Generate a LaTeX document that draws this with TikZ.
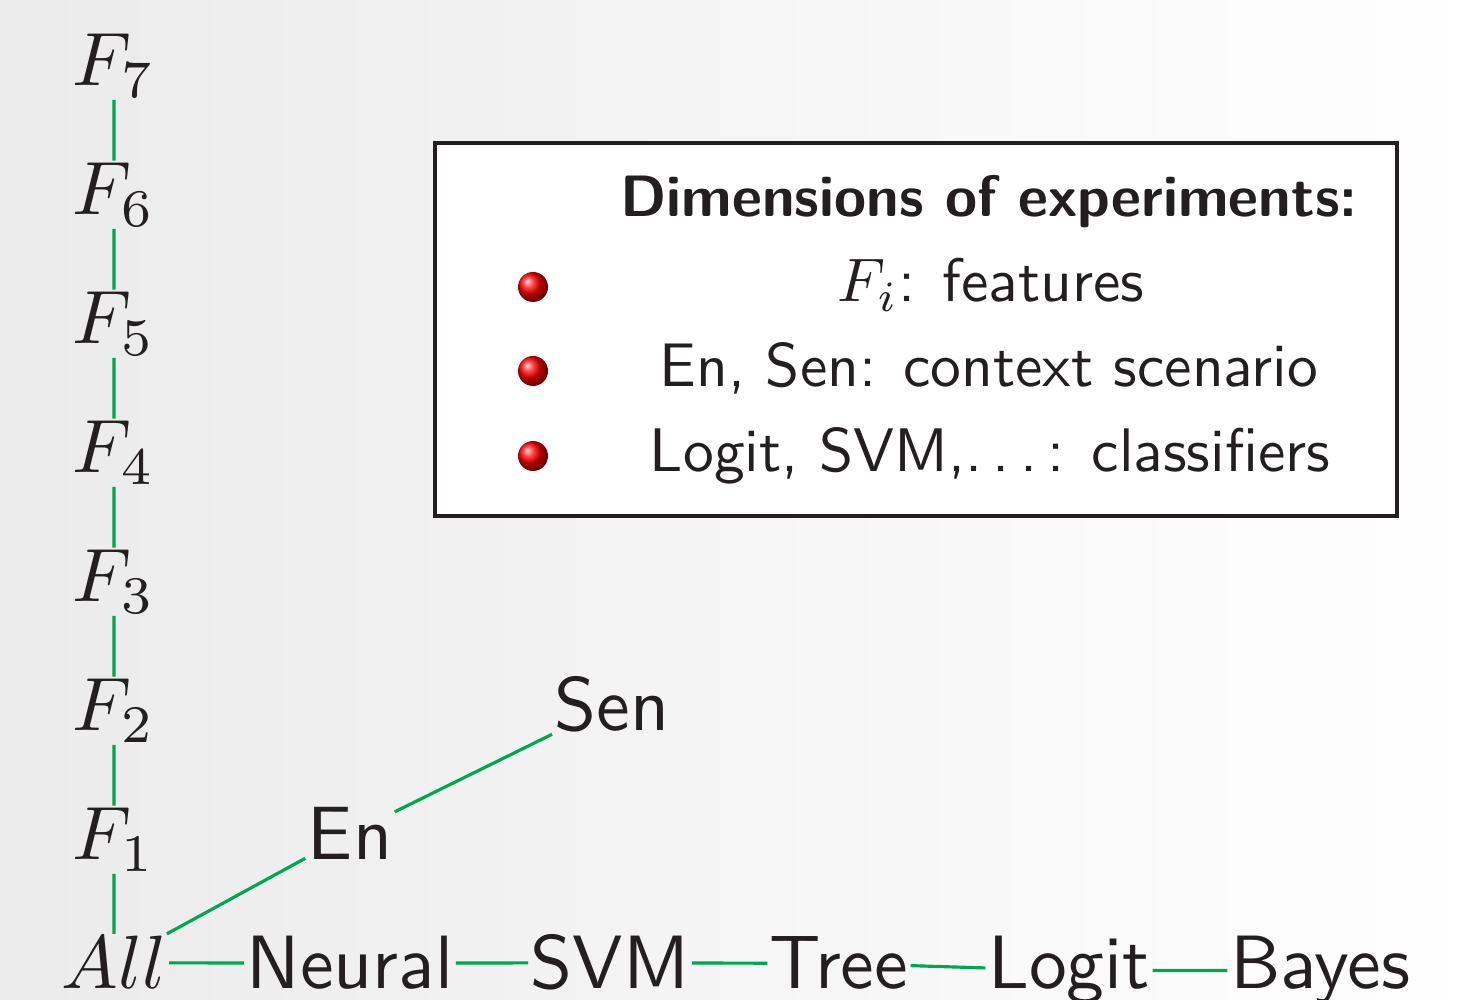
\documentclass[tikz,border=0pt]{standalone}
\usepackage{amsmath}
\usepackage{tikz}
\usetikzlibrary{positioning}

\definecolor{linkgreen}{RGB}{0,166,81}
\definecolor{inkgray}{RGB}{35,31,32}

% dots as in the old text ellipsis
\newcommand{\spacedots}{.\kern\fontdimen3\font.\kern\fontdimen3\font.\kern\fontdimen3\font}

\begin{document}
\begin{tikzpicture}[
		lbl/.style={anchor=base, inner sep=0.15pt, text=inkgray, font=\sffamily\fontsize{10}{12}\selectfont, scale=2.15, transform shape},
		link/.style={linkgreen, line width=0.9pt},
		keytext/.style={anchor=base, text=inkgray, font=\sffamily\fontsize{10}{12}\selectfont, scale=1.75, transform shape},
		keyhead/.style={keytext, font=\sffamily\bfseries\fontsize{10}{12}\selectfont, scale=1.66/1.75},
		keyball/.style={circle, inner sep=0, minimum size=0.3cm, shading=ball, ball color=red}
	]
		
		\def\dy{1.29} % distance between rows
		\def\yb{0.11} % baseline of bottom row
		
		% --- background ---
		\shade[left color=black!8, right color=white] (0,0) rectangle (14.84,10);
		\useasboundingbox (0,0) rectangle (14.84,10);
		
		% feature column
		\node[lbl] (all) at (1.14,\yb) {$All$};
		\foreach \k in {1,...,7} {
			\node[lbl] (f\k) at (1.14,{\yb+\k*\dy}) {$F_{\k}$};
		}
		
		% classifier row
		\foreach \name/\x/\txt in {neural/3.50/Neural, svm/6.10/SVM, tree/8.39/Tree, logit/10.69/Logit, bayes/13.20/Bayes} {
			\node[lbl] (\name) at (\x,\yb) {\txt};
		}
		
		% context scenario
		\node[lbl] (en) at (3.50,{\yb+\dy}) {En};
		\node[lbl] (sen) at (6.12,{\yb+2*\dy}) {Sen};
		
		% links
		\foreach \a/\b in {all/f1, f1/f2, f2/f3, f3/f4, f4/f5, f5/f6, f6/f7,
			all/neural, neural/svm, svm/tree, tree/logit, logit/bayes,
			all/en, en/sen} {
			\draw[link] (\a) -- (\b);
		}
		
		% legend box
		\node[draw=inkgray, line width=1pt, fill=white, minimum width=9.62cm, minimum height=3.73cm, inner sep=0] (legend) at (9.16,6.705) {};
		\node[keyhead] (keytitle) at (9.89,7.83) {Dimensions of experiments:};
		\node[keytext] (keyfeat) at (9.91,6.98) {$F_i$: features};
		\node[keytext] (keyctx) at (9.89,6.13) {En, Sen: context scenario};
		\node[keytext] (keyclf) at (9.90,5.28) {Logit, SVM,\spacedots: classifiers};
		\node[keyball] (ball1) at (5.33,7.13) {};
		\node[keyball] (ball2) at (5.33,6.29) {};
		\node[keyball] (ball3) at (5.33,5.44) {};
		
\end{tikzpicture}
\end{document}
